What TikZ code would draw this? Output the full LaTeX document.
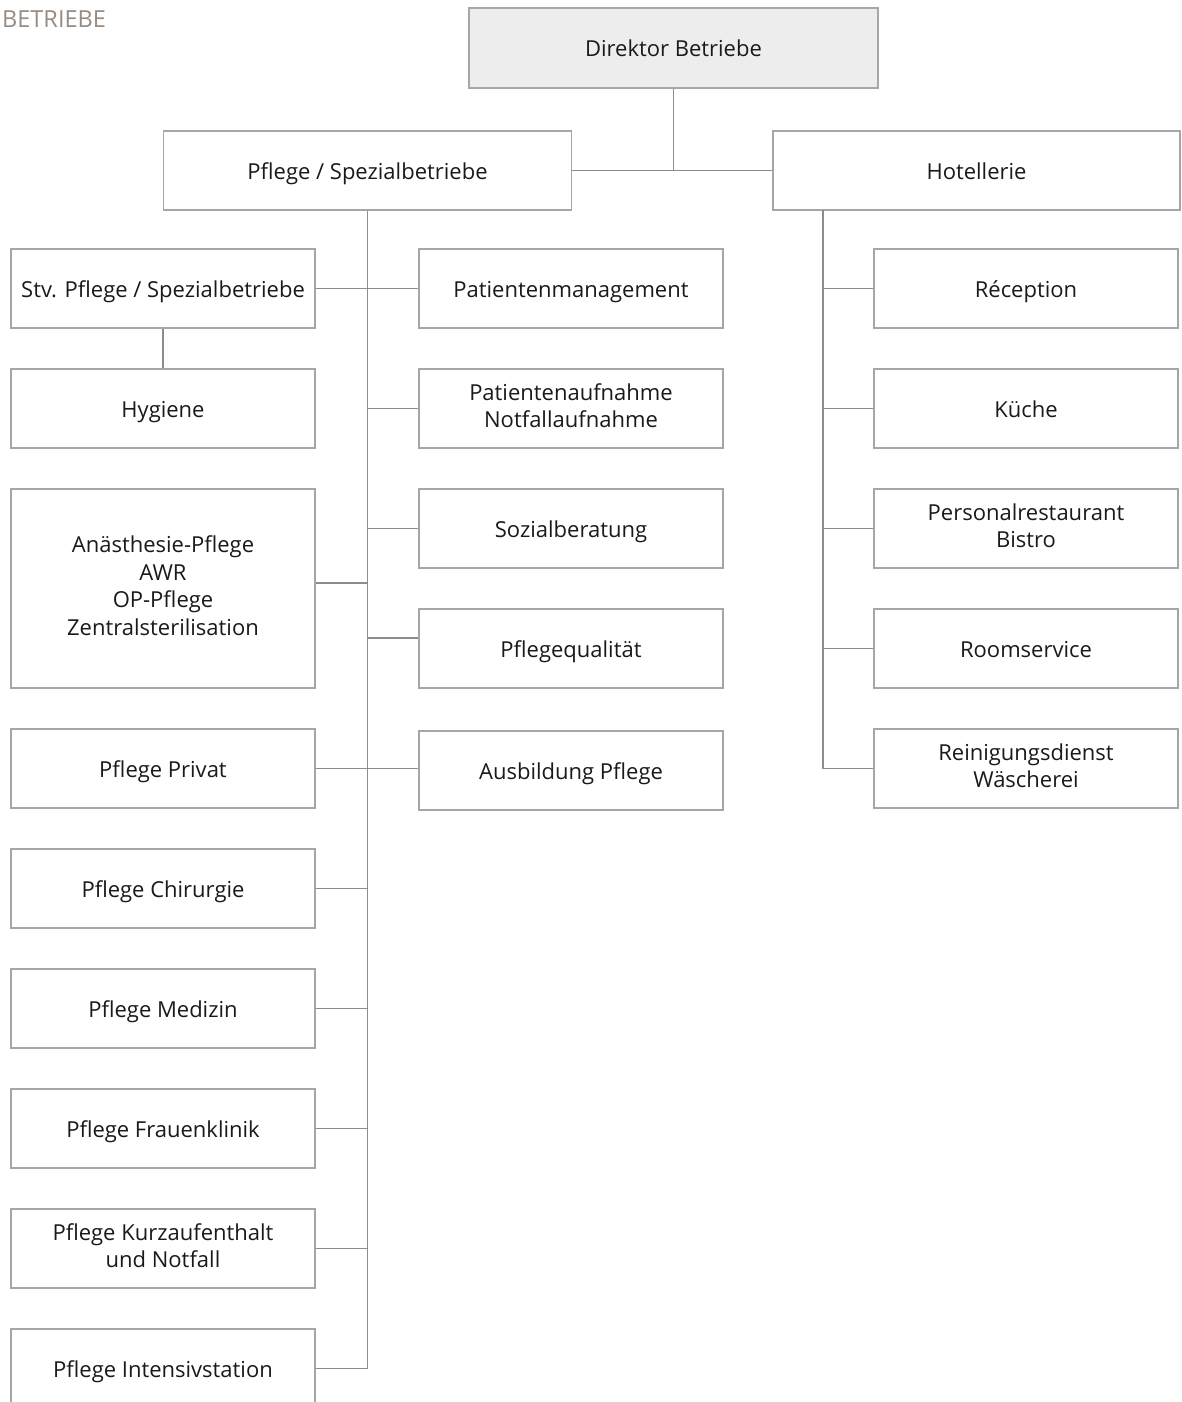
\documentclass[tikz,border=0pt]{standalone}
\usepackage{fontspec}
\setmainfont{Open Sans}
\definecolor{boxline}{HTML}{A6A6A6}
\definecolor{conline}{HTML}{8C8C8C}
\definecolor{dirfill}{HTML}{EDEDED}
\definecolor{titlecol}{HTML}{978C82}
\definecolor{txt}{HTML}{1A1A1A}
\newcommand{\topstrut}{\rule{0pt}{23.4pt}}
\newcommand{\multistrut}{\rule{0pt}{31pt}}
\newcommand{\botstrut}{\rule[-6pt]{0pt}{6pt}}
\begin{document}
\begin{tikzpicture}[x=1pt,y=-1pt,
  orgbox/.style={draw=boxline, line width=1.3pt, fill=white, rectangle, inner sep=0pt,
    minimum width=304pt, minimum height=79pt, align=center, text=txt,
    font=\fontsize{22}{27.7}\selectfont,
    execute at begin node=\topstrut, execute at end node=\botstrut},
  multi/.style={execute at begin node=\multistrut},
  conn/.style={draw=conline, line width=1.3pt}]
\clip (0,0) rectangle (1181,1402);
\fill[white] (0,0) rectangle (1181,1402);
\node[anchor=base west, text=titlecol, font=\fontsize{23.5}{23.5}\selectfont, inner sep=0pt] (title) at (2,28) {BETRIEBE};

% top level
\node[orgbox, fill=dirfill, minimum width=409pt, minimum height=80pt] (dir) at (673.5,48) {Direktor Betriebe};
\node[orgbox, minimum width=408pt] (pfl) at (367.5,170.5) {Pflege / Spezialbetriebe};
\node[orgbox, minimum width=407pt] (hot) at (976.5,170.5) {Hotellerie};

% left column
\node[orgbox] (stv) at (163,288.5) {Stv. Pflege / Spezialbetriebe};
\node[orgbox] (hyg) at (163,408.5) {Hygiene};
\node[orgbox, multi, minimum height=199pt] (anae) at (163,588.5) {Anästhesie-Pflege\\AWR\\OP-Pflege\\Zentralsterilisation};
\node[orgbox] (priv) at (163,768.5) {Pflege Privat};
\node[orgbox] (chir) at (163,888.5) {Pflege Chirurgie};
\node[orgbox] (med) at (163,1008.5) {Pflege Medizin};
\node[orgbox] (frau) at (163,1128.5) {Pflege Frauenklinik};
\node[orgbox, multi] (kurz) at (163,1248.5) {Pflege Kurzaufenthalt\\und Notfall};
\node[orgbox] (int) at (163,1368.5) {Pflege Intensivstation};

% middle column
\node[orgbox] (pm) at (571,288.5) {Patientenmanagement};
\node[orgbox, multi] (pa) at (571,408.5) {Patientenaufnahme\\Notfallaufnahme};
\node[orgbox] (soz) at (571,528.5) {Sozialberatung};
\node[orgbox] (pq) at (571,648.5) {Pflegequalität};
\node[orgbox] (aus) at (571,770.5) {Ausbildung Pflege};

% right column
\node[orgbox] (rec) at (1026,288.5) {Réception};
\node[orgbox] (kue) at (1026,408.5) {Küche};
\node[orgbox, multi] (pr) at (1026,528.5) {Personalrestaurant\\Bistro};
\node[orgbox] (room) at (1026,648.5) {Roomservice};
\node[orgbox, multi] (rei) at (1026,768.5) {Reinigungsdienst\\Wäscherei};

\coordinate (hs) at (823,210);

% connectors
\draw[conn] (dir.south) -- (dir.south |- pfl.east);
\draw[conn] (pfl.east) -- (hot.west);
\draw[conn] (pfl.south) |- (int.east);
\draw[conn] (stv.east) -- (pm.west);
\draw[conn] (stv.south) -- (hyg.north);
\draw[conn] (pa.west) -- (pa.west -| pfl.south);
\draw[conn] (soz.west) -- (soz.west -| pfl.south);
\draw[conn] ([yshift=5.5pt]anae.east) -- ([yshift=5.5pt]anae.east -| pfl.south);
\draw[conn] ([yshift=10.5pt]pq.west) -- ([yshift=10.5pt]pq.west -| pfl.south);
\draw[conn] (priv.east) -- (priv.east -| aus.west);
\draw[conn] (chir.east) -- (chir.east -| pfl.south);
\draw[conn] (med.east) -- (med.east -| pfl.south);
\draw[conn] (frau.east) -- (frau.east -| pfl.south);
\draw[conn] (kurz.east) -- (kurz.east -| pfl.south);

\draw[conn] (hs) |- (rei.west);
\draw[conn] (rec.west) -- (rec.west -| hs);
\draw[conn] (kue.west) -- (kue.west -| hs);
\draw[conn] (pr.west) -- (pr.west -| hs);
\draw[conn] (room.west) -- (room.west -| hs);
\end{tikzpicture}
\end{document}
